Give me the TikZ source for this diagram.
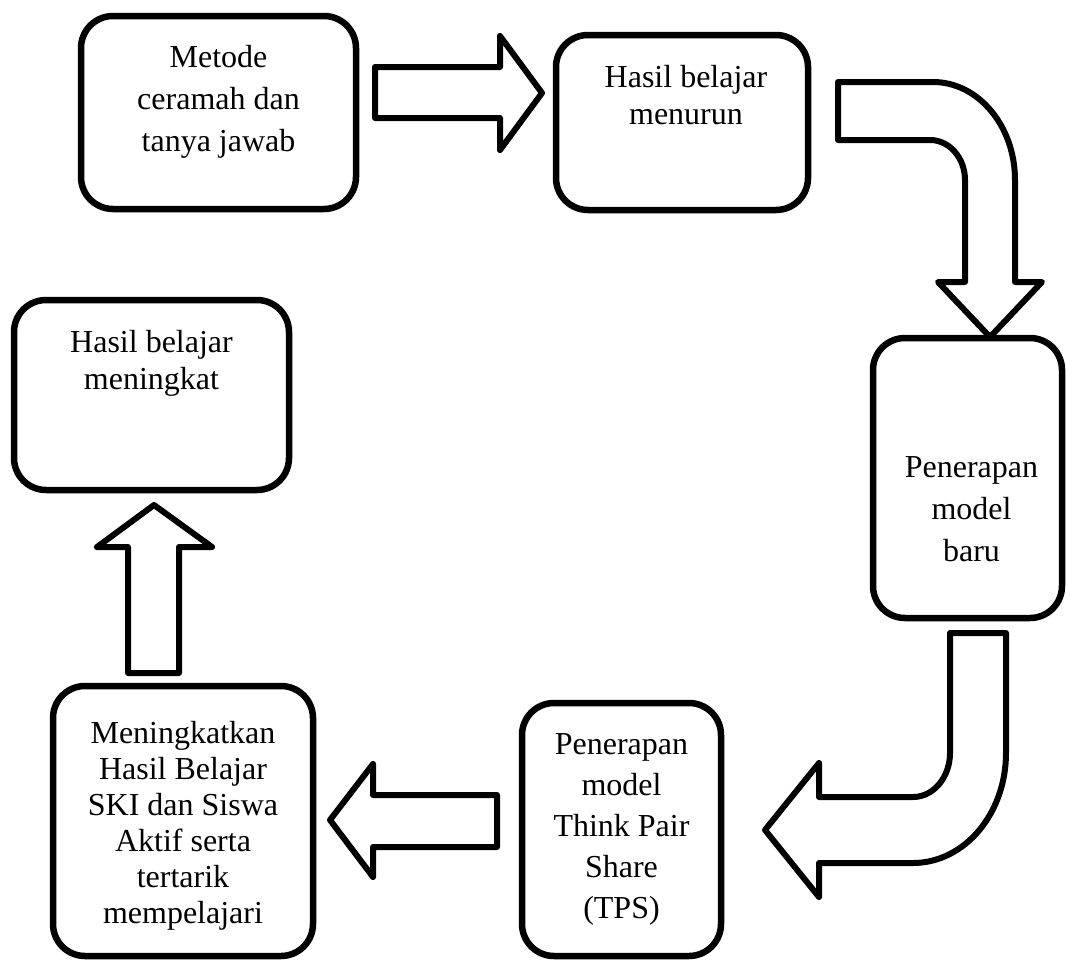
\documentclass[tikz,border=0pt]{standalone}
\usepackage{fontspec}
\setmainfont{Liberation Serif}
\usetikzlibrary{positioning}

\begin{document}
\begin{tikzpicture}[x=1pt,y=-1pt,line join=round]
 \tikzstyle{box}=[draw,line width=6.5pt,rounded corners=32pt,inner sep=0pt]
 \tikzstyle{txt}=[align=center,inner sep=0pt,font=\fontsize{32}{42}\selectfont]
 \tikzstyle{blockarrow}=[draw,line width=6pt,fill=white]
 \useasboundingbox (0,0) rectangle (1066,961);

 \node (metode) at (218.5,112.5) [box,minimum width=275pt,minimum height=193pt] {};
 \node (menurun) at (682,122.5) [box,minimum width=252pt,minimum height=175pt] {};
 \node (meningkat) at (151.5,395) [box,minimum width=275pt,minimum height=190pt] {};
 \node (baru) at (967.5,478) [box,minimum width=189pt,minimum height=280pt] {};
 \node (tps) at (621.5,829.5) [box,minimum width=199pt,minimum height=253pt] {};
 \node (aktif) at (183,821) [box,minimum width=260pt,minimum height=270pt] {};

 \node (metodetext) [txt,below=32pt of metode.north] {Metode\\ceramah dan\\tanya jawab};
 \node (menuruntext) [txt,below=33pt of menurun.north,xshift=4pt,font=\fontsize{32}{37}\selectfont] {Hasil belajar\\menurun};
 \node (meningkattext) [txt,below=33pt of meningkat.north,font=\fontsize{32}{37}\selectfont] {Hasil belajar\\meningkat};
 \node (barutext) [txt,below=122pt of baru.north,xshift=4pt] {Penerapan\\model\\baru};
 \node (tpstext) [txt,below=34pt of tps.north,font=\fontsize{32}{41}\selectfont] {Penerapan\\model\\Think Pair\\Share\\(TPS)};
 \node (aktiftext) [txt,below=38pt of aktif.north,font=\fontsize{32}{36}\selectfont] {Meningkatkan\\Hasil Belajar\\SKI dan Siswa\\Aktif serta\\tertarik\\mempelajari};

 % straight arrows
 \draw [blockarrow] (375,67) -- (500,67) -- (500,36) -- (542,93) -- (500,150) -- (500,118) -- (375,118) -- cycle;
 \draw [blockarrow] (497,795) -- (373,795) -- (373,764) -- (330,820) -- (373,877) -- (373,847) -- (497,847) -- cycle;
 \draw [blockarrow] (128,673) -- (128,547) -- (97,547) -- (154,505) -- (212,547) -- (179,547) -- (179,673) -- cycle;

 % bent arrows
 \draw [blockarrow] (838,82) -- (933,82) arc[start angle=90,end angle=0,x radius=82pt,y radius=98pt]
   -- (1015,282) -- (1042,282) -- (990,337) -- (938,282) -- (965,282) -- (965,180)
   arc[start angle=0,end angle=90,x radius=35pt,y radius=40pt] -- (838,140) -- cycle;
 \draw [blockarrow] (950,633) -- (950,753) arc[start angle=0,end angle=-90,x radius=37pt,y radius=44pt]
   -- (819,797) -- (819,763) -- (765,830) -- (819,897) -- (819,863) -- (913,863)
   arc[start angle=-90,end angle=0,x radius=93pt,y radius=110pt] -- (1006,633) -- cycle;

\end{tikzpicture}
\end{document}
